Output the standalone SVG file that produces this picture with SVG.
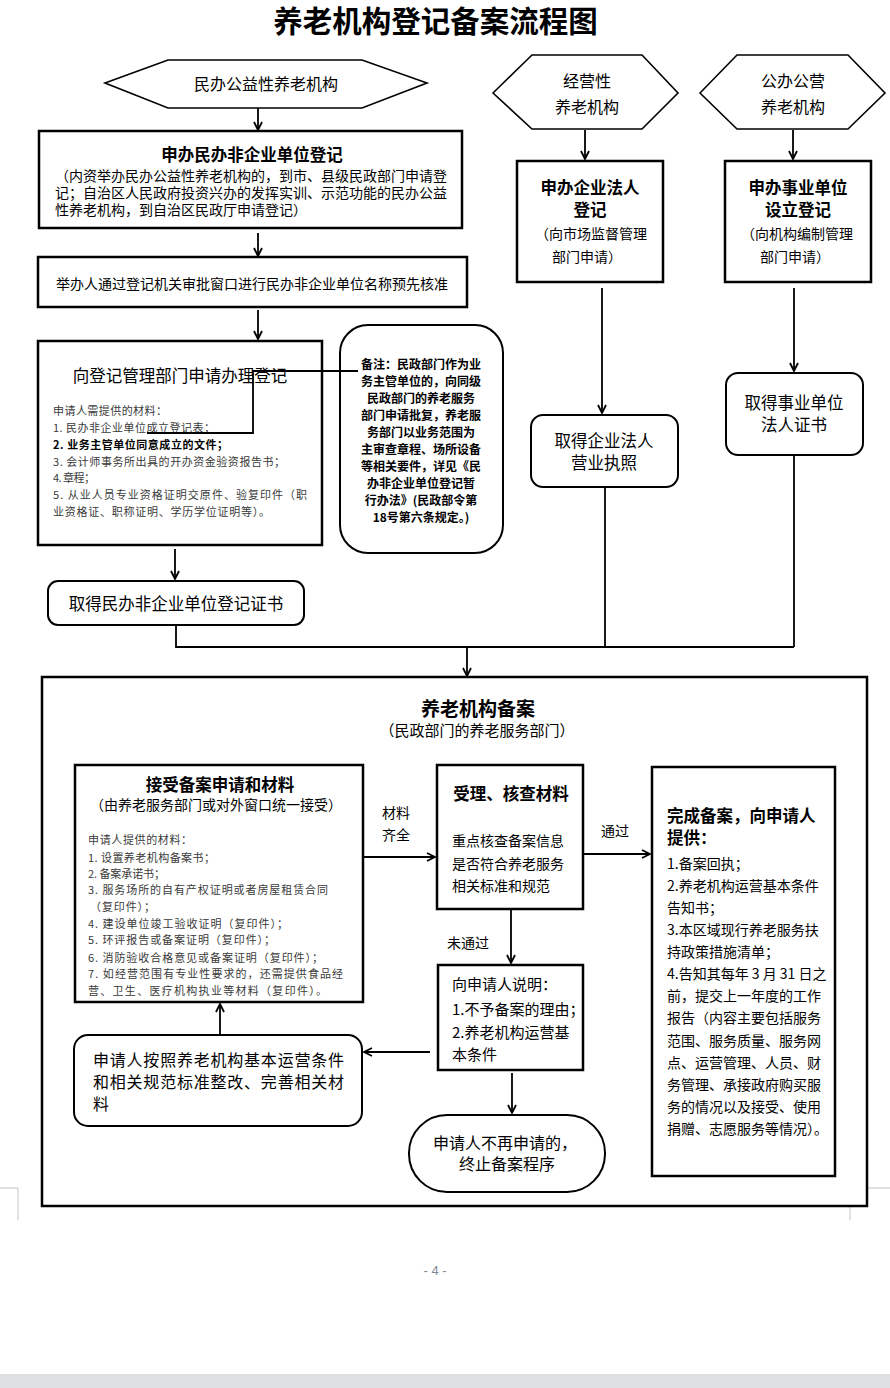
<svg xmlns="http://www.w3.org/2000/svg" width="890" height="1388" viewBox="0 0 890 1388">
<style>
text{font-family:"Noto Sans CJK SC","Noto Sans",sans-serif;fill:#000;dominant-baseline:central}
.b{font-weight:bold}
.c{text-anchor:middle}
.box{fill:#fff;stroke:#000;stroke-width:2.5}
.rbox{fill:#fff;stroke:#000;stroke-width:2}
.hex{fill:#fff;stroke:#000;stroke-width:1.6}
.conn{fill:none;stroke:#000;stroke-width:1.8}
.arr{marker-end:url(#ah)}
.sm{font-size:11px;fill:#3a3a3a}
.f14{font-size:14px}
.f15{font-size:15px}
.f16{font-size:16px}
.f165{font-size:16.5px}
.mark{fill:none;stroke:#c4c4c4;stroke-width:1}
</style>
<defs>
<marker id="ah" viewBox="0 0 10 10" refX="9" refY="5" markerWidth="10" markerHeight="10" markerUnits="userSpaceOnUse" orient="auto">
<path d="M1,1 L9,5 L1,9" fill="none" stroke="#000" stroke-width="1.8"/>
</marker>
</defs>
<rect width="890" height="1388" fill="#fff"/>
<rect x="0" y="1374" width="890" height="14" fill="#dfe0e2"/>
<path class="mark" d="M0,1188 H18 V1220 M890,1188 H850 V1220"/>
<text x="435" y="1270" class="c" style="font-family:'Liberation Sans',sans-serif;font-size:13px;fill:#7f8890">- 4 -</text>

<text x="435.5" y="19" class="c b" style="font-size:29.5px">养老机构登记备案流程图</text>

<g id="filing-container">
<rect class="box" x="42" y="677" width="825" height="529"/>
<text x="478" y="707" class="c b" style="font-size:19px">养老机构备案</text>
<text x="477" y="729" class="c f15">（民政部门的养老服务部门）</text>
</g>

<g id="hex-minban">
<polygon class="hex" points="105,83 168,60 362,60 427,83 362,108 168,108"/>
<text x="266" y="83" class="c f16">民办公益性养老机构</text>
</g>

<g id="box-minfei-reg">
<rect class="box" x="39" y="131" width="423" height="97"/>
<text x="252" y="154" class="c b f165">申办民办非企业单位登记</text>
<text x="55" y="175" class="f14" textLength="392" lengthAdjust="spacing">（内资举办民办公益性养老机构的，到市、县级民政部门申请登</text>
<text x="55" y="192" class="f14" textLength="392" lengthAdjust="spacing">记；自治区人民政府投资兴办的发挥实训、示范功能的民办公益</text>
<text x="55" y="209" class="f14">性养老机构，到自治区民政厅申请登记）</text>
</g>

<g id="box-name-approval">
<rect class="box" x="38" y="257" width="429" height="50"/>
<text x="252" y="283" class="c f14">举办人通过登记机关审批窗口进行民办非企业单位名称预先核准</text>
</g>

<g id="box-apply-reg">
<rect class="box" x="38" y="341" width="284" height="204"/>
<text x="180" y="375" class="c f165">向登记管理部门申请办理登记</text>
<text x="53" y="410" class="sm" textLength="114" lengthAdjust="spacing">申请人需提供的材料：</text>
<text x="53" y="427" class="sm" textLength="162" lengthAdjust="spacing">1. 民办非企业单位成立登记表；</text>
<text x="53" y="444" class="sm b" style="fill:#000" textLength="175" lengthAdjust="spacing">2. 业务主管单位同意成立的文件；</text>
<text x="53" y="461" class="sm" textLength="232" lengthAdjust="spacing">3. 会计师事务所出具的开办资金验资报告书；</text>
<text x="53" y="477" class="sm" textLength="42" lengthAdjust="spacing">4. 章程；</text>
<text x="53" y="494" class="sm" textLength="254" lengthAdjust="spacing">5. 从业人员专业资格证明交原件、验复印件（职</text>
<text x="53" y="511" class="sm" textLength="217" lengthAdjust="spacing">业资格证、职称证明、学历学位证明等）。</text>
</g>

<g id="note">
<rect class="rbox" x="340" y="325" width="163" height="228" rx="28"/>
<g class="b" style="font-size:12px">
<text x="421" y="363" class="c">备注：民政部门作为业</text>
<text x="421" y="380" class="c">务主管单位的，向同级</text>
<text x="421" y="397" class="c">民政部门的养老服务</text>
<text x="421" y="414" class="c">部门申请批复，养老服</text>
<text x="421" y="431" class="c">务部门以业务范围为</text>
<text x="421" y="448" class="c">主审查章程、场所设备</text>
<text x="421" y="465" class="c">等相关要件，详见《民</text>
<text x="421" y="482" class="c">办非企业单位登记暂</text>
<text x="421" y="499" class="c">行办法》(民政部令第</text>
<text x="421" y="516" class="c">18号第六条规定。)</text>
</g>
</g>

<g id="cert-minfei">
<rect class="rbox" x="48" y="581" width="256" height="44" rx="10"/>
<text x="176" y="603" class="c f165">取得民办非企业单位登记证书</text>
</g>

<g id="hex-jingying">
<polygon class="hex" points="493,93 532,55 642,55 678,93 642,129 532,129"/>
<text x="587" y="80" class="c f16">经营性</text>
<text x="587" y="106" class="c f16">养老机构</text>
</g>

<g id="box-enterprise">
<rect class="box" x="517" y="161" width="146" height="121"/>
<text x="590" y="187" class="c b f165">申办企业法人</text>
<text x="590" y="209" class="c b f165">登记</text>
<text x="591" y="233" class="c f14">（向市场监督管理</text>
<text x="587" y="256" class="c f14">部门申请）</text>
</g>

<g id="cert-enterprise">
<rect class="rbox" x="531" y="415" width="147" height="72" rx="12"/>
<text x="604" y="440" class="c f165">取得企业法人</text>
<text x="604" y="462" class="c f165">营业执照</text>
</g>

<g id="hex-gongban">
<polygon class="hex" points="700,93 737,55 848,55 885,93 848,129 737,129"/>
<text x="793" y="80" class="c f16">公办公营</text>
<text x="793" y="106" class="c f16">养老机构</text>
</g>

<g id="box-shiye">
<rect class="box" x="725" y="161" width="146" height="121"/>
<text x="798" y="187" class="c b f165">申办事业单位</text>
<text x="798" y="209" class="c b f165">设立登记</text>
<text x="797" y="233" class="c f14">（向机构编制管理</text>
<text x="795" y="256" class="c f14">部门申请）</text>
</g>

<g id="cert-shiye">
<rect class="rbox" x="726" y="373" width="137" height="82" rx="12"/>
<text x="794" y="402" class="c f165">取得事业单位</text>
<text x="794" y="424" class="c f165">法人证书</text>
</g>

<g id="box-receive">
<rect class="box" x="75" y="765" width="288" height="237"/>
<text x="220" y="784" class="c b f165">接受备案申请和材料</text>
<text x="216" y="804" class="c f14">（由养老服务部门或对外窗口统一接受）</text>
<text x="88" y="839" class="sm" textLength="104" lengthAdjust="spacing">申请人提供的材料：</text>
<text x="88" y="857" class="sm" textLength="127" lengthAdjust="spacing">1. 设置养老机构备案书；</text>
<text x="88" y="873" class="sm" textLength="77" lengthAdjust="spacing">2. 备案承诺书；</text>
<text x="88" y="889" class="sm" textLength="240" lengthAdjust="spacing">3. 服务场所的自有产权证明或者房屋租赁合同</text>
<text x="90" y="906" class="sm" textLength="65" lengthAdjust="spacing">（复印件）；</text>
<text x="88" y="923" class="sm" textLength="200" lengthAdjust="spacing">4. 建设单位竣工验收证明（复印件）；</text>
<text x="88" y="939" class="sm" textLength="187" lengthAdjust="spacing">5. 环评报告或备案证明（复印件）；</text>
<text x="88" y="957" class="sm" textLength="235" lengthAdjust="spacing">6. 消防验收合格意见或备案证明（复印件）；</text>
<text x="88" y="973" class="sm" textLength="255" lengthAdjust="spacing">7. 如经营范围有专业性要求的，还需提供食品经</text>
<text x="88" y="990" class="sm" textLength="239" lengthAdjust="spacing">营、卫生、医疗机构执业等材料（复印件）。</text>
</g>

<g id="box-check">
<rect class="box" x="437" y="765" width="146" height="144"/>
<text x="511" y="793" class="c b f165">受理、核查材料</text>
<text x="452" y="840" class="f14">重点核查备案信息</text>
<text x="452" y="863" class="f14">是否符合养老服务</text>
<text x="452" y="885" class="f14">相关标准和规范</text>
</g>

<g id="box-complete">
<rect class="box" x="652" y="767" width="183" height="409"/>
<text x="667" y="815" class="b f165">完成备案，向申请人</text>
<text x="667" y="837" class="b f165">提供：</text>
<text x="667" y="863" class="f14">1.备案回执；</text>
<text x="667" y="885" class="f14">2.养老机构运营基本条件</text>
<text x="667" y="907" class="f14">告知书；</text>
<text x="667" y="929" class="f14">3.本区域现行养老服务扶</text>
<text x="667" y="951" class="f14">持政策措施清单；</text>
<text x="667" y="973" class="f14">4.告知其每年 3 月 31 日之</text>
<text x="667" y="995" class="f14">前，提交上一年度的工作</text>
<text x="667" y="1017" class="f14">报告（内容主要包括服务</text>
<text x="667" y="1040" class="f14">范围、服务质量、服务网</text>
<text x="667" y="1062" class="f14">点、运营管理、人员、财</text>
<text x="667" y="1084" class="f14">务管理、承接政府购买服</text>
<text x="667" y="1106" class="f14">务的情况以及接受、使用</text>
<text x="667" y="1128" class="f14">捐赠、志愿服务等情况）。</text>
</g>

<g id="box-explain">
<rect class="box" x="438" y="965" width="145" height="105"/>
<text x="452" y="983" class="f15">向申请人说明：</text>
<text x="452" y="1008" class="f15">1.不予备案的理由；</text>
<text x="452" y="1031" class="f15">2.养老机构运营基</text>
<text x="452" y="1053" class="f15">本条件</text>
</g>

<g id="box-rectify">
<rect class="rbox" x="74" y="1035" width="288" height="91" rx="14"/>
<text x="93" y="1059" class="f16" textLength="251" lengthAdjust="spacing">申请人按照养老机构基本运营条件</text>
<text x="93" y="1081" class="f16" textLength="251" lengthAdjust="spacing">和相关规范标准整改、完善相关材</text>
<text x="93" y="1103" class="f16">料</text>
</g>

<g id="end-oval">
<rect class="rbox" x="409" y="1115" width="196" height="77" rx="38"/>
<text x="505" y="1142" class="c f16">申请人不再申请的，</text>
<text x="507" y="1163" class="c f16">终止备案程序</text>
</g>

<g id="connectors">
<path class="conn arr" d="M258,108 V130"/>
<path class="conn arr" d="M258,233 V256"/>
<path class="conn arr" d="M258,310 V339"/>
<path class="conn" d="M358,371 H253 V433 H147"/>
<path class="conn arr" d="M175,549 V579"/>
<path class="conn" d="M176,626 V647 H794"/>
<path class="conn" d="M605,488 V647"/>
<path class="conn" d="M794,456 V647"/>
<path class="conn arr" d="M467,647 V676"/>
<path class="conn arr" d="M585,130 V159"/>
<path class="conn arr" d="M602,288 V413"/>
<path class="conn arr" d="M793,130 V159"/>
<path class="conn arr" d="M794,288 V371"/>
<path class="conn arr" d="M363,857 H435"/>
<path class="conn arr" d="M583,854 H650"/>
<path class="conn arr" d="M511,910 V963"/>
<path class="conn arr" d="M430,1052 H364"/>
<path class="conn arr" d="M220,1034 V1004"/>
<path class="conn arr" d="M512,1073 V1113"/>
<text x="396" y="812" class="c f14">材料</text>
<text x="396" y="834" class="c f14">齐全</text>
<text x="615" y="830" class="c f14">通过</text>
<text x="468" y="942" class="c f14">未通过</text>
</g>
</svg>
